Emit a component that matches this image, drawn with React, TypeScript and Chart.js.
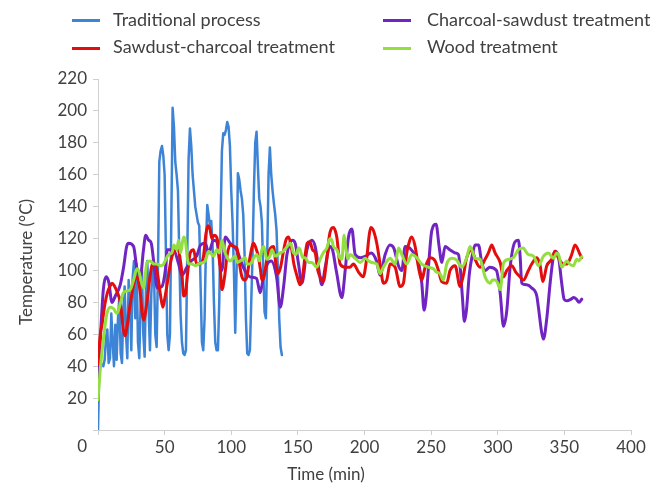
import React, { useEffect, useRef } from "react";
import { Chart, registerables } from "chart.js";

Chart.register(...registerables);

// ---- data ----
const seriesNames = [
  "Traditional process",
  "Charcoal-sawdust treatment",
  "Sawdust-charcoal treatment",
  "Wood treatment",
];

// Traditional process: one reading per minute, starting at 0 min
const tradTemp = [
  0, 40, 42, 41, 40, 44, 58, 63, 42, 45,
  73, 55, 40, 66, 44, 70, 83, 48, 42, 75,
  90, 60, 45, 94, 80, 50, 95, 106, 70, 104,
  55, 45, 80, 100, 60, 46, 90, 106, 75, 50,
  85, 103, 100, 60, 52, 100, 168, 175, 178, 172,
  160, 110, 60, 50, 60, 130, 202, 190, 168, 160,
  150, 110, 72, 55, 48, 47, 50, 110, 170, 189,
  178, 160, 150, 140, 135, 130, 128, 90, 55, 50,
  70, 115, 141, 135, 128, 131, 115, 80, 55, 50,
  50, 80, 130, 175, 186, 185, 188, 193, 190, 178,
  150, 130, 100, 61, 100, 161, 157, 150, 145, 135,
  110, 70, 48, 47, 50, 80, 110, 150, 180, 187,
  165, 145, 140, 130, 100, 74, 70, 110, 160, 177,
  160, 150, 142, 135, 125, 100, 70, 52, 47,
];

const charcoalSawdustTime = [
  0, 1.7, 4, 6, 8, 10.5, 13, 16.7, 19.2, 21.5, 23, 26.7, 29.2, 31.7, 34, 35.8, 38, 40, 42, 44.5,
  48, 50.5, 52, 56.7, 60.5, 63, 66.7, 70, 74, 77, 80.5, 83, 86.7, 89.2, 91.5, 93, 95.5, 99.2, 104, 109,
  114, 119, 121.7, 124.2, 127, 130, 134, 136.8, 139.3, 141.8, 144, 146, 148, 150.5, 153, 156.8, 160.5, 163, 165.5, 168,
  170.5, 174, 176, 179, 183, 185.5, 188, 190.5, 193, 197, 201, 205, 209, 211.7, 215.5, 219, 222, 225.5, 228, 230.5,
  234, 239, 241, 243, 244.7, 246.5, 248, 250.5, 253.7, 256, 258, 260.5, 264, 268, 270.5, 272, 273.5, 275, 276.5, 278.7,
  281, 283, 285.5, 288, 290.5, 294, 299, 301.8, 304.3, 306.8, 309.3, 313, 315.5, 316.8, 318, 321.8, 325.5, 329.3, 330.5, 333,
  334.3, 336.8, 339.3, 341.8, 343, 345.5, 348, 349.8, 352, 355, 357, 359, 361, 363,
];
const charcoalSawdustTemp = [
  27, 56, 88, 96, 93, 80, 84, 91, 102, 115, 117, 115, 101, 95, 112, 122, 119, 117, 104, 89,
  90, 100, 113, 113, 104, 97, 102, 106, 109, 116, 117, 111, 119, 118, 104, 100, 121, 117, 113, 102,
  96, 95, 86, 96, 104, 106, 96, 77, 90, 110, 117, 119, 117, 104, 92, 113, 119, 115, 102, 91,
  102, 115, 113, 99, 83, 100, 121, 126, 110, 108, 109, 111, 106, 97, 110, 116, 114, 103, 100, 115,
  114, 108, 103, 92, 75, 85, 102, 125, 129, 115, 105, 115, 113, 111, 110, 100, 83, 68, 75, 98,
  110, 116, 116, 105, 100, 102, 100, 86, 65, 75, 102, 118, 119, 109, 92, 91, 89, 84, 77, 61,
  57, 70, 92, 109, 112, 109, 92, 82, 81, 82, 83, 82, 80, 82,
];

const sawdustCharcoalTime = [
  0, 1.7, 3, 5, 7, 9, 10.5, 12.5, 14.2, 16.7, 19.2, 20.5, 22, 24, 26.7, 29.2, 31.7, 33, 34.2, 36.7,
  39, 41, 43, 45, 47, 48.7, 50, 52, 54.7, 57, 60, 61.5, 63, 64.2, 65.5, 67, 69.2, 71.7, 74, 76,
  79, 81, 82.5, 84, 85.5, 87, 89, 90.5, 92, 93, 95, 97, 99.2, 102, 104.2, 106, 108, 110, 111.7, 114,
  116.7, 118.5, 120.5, 122, 123, 124.5, 127, 129.5, 131.7, 133.5, 135, 137, 139.2, 141, 143, 145, 147, 149.2, 151.7, 153.5,
  155.5, 157, 159, 161, 163, 165, 166.7, 169, 171.7, 173.5, 175, 176.7, 178, 179.2, 181.7, 185.5, 189, 191.7, 195.5, 199,
  201.7, 203.5, 204.7, 206.7, 209.2, 211.7, 214.2, 216.7, 219.2, 223, 226.7, 229.2, 231.7, 234, 235.5, 238, 240.5, 243, 245.5, 249.2,
  253, 255.5, 258, 261.7, 264.2, 268, 271.7, 274.2, 276.7, 280.5, 283, 286.7, 290.5, 293, 295.5, 298, 301.8, 304.3, 306.8, 310.5,
  313.5, 316.8, 319.3, 323, 325.5, 329.3, 331.8, 333.8, 336.8, 340.5, 343, 345.5, 349.3, 351.8, 355.5, 358, 361.8, 363,
];
const sawdustCharcoalTemp = [
  41, 60, 66, 78, 86, 90, 92, 90, 87, 80, 62, 59, 66, 78, 91, 96, 86, 74, 69, 80,
  96, 104, 104, 96, 84, 77, 82, 92, 106, 112, 114, 108, 98, 84, 85, 96, 111, 113, 104, 104,
  108, 123, 128, 126, 120, 122, 121, 114, 98, 88, 96, 110, 116, 115, 114, 105, 96, 94, 96, 108,
  117, 114, 108, 100, 94, 96, 108, 114, 115, 104, 98, 102, 112, 119, 121, 115, 104, 97, 91, 96,
  110, 117, 118, 113, 111, 100, 96, 93, 107, 121, 126, 127, 125, 121, 104, 102, 102, 104, 99, 96,
  108, 122, 127, 125, 117, 104, 92, 94, 104, 102, 90, 92, 111, 119, 121, 115, 102, 94, 102, 108,
  106, 100, 93, 92, 100, 103, 90, 97, 108, 113, 107, 102, 107, 111, 116, 111, 105, 96, 100, 103,
  99, 96, 94, 100, 104, 108, 103, 93, 103, 107, 112, 108, 104, 104, 110, 116, 110, 108,
];

const woodTime = [
  0, 1.7, 4.2, 6.7, 9.2, 11.7, 14.2, 16.7, 19, 21, 24.2, 26.7, 29.2, 30.5, 31.7, 34.2, 36.7, 39.2, 42, 44.2,
  47, 49.2, 51, 53, 55.5, 57, 59, 60.5, 62, 64.2, 65.5, 67, 68, 70.5, 73, 76.7, 80.5, 83, 86.7, 89.2,
  91, 93, 95, 97, 99.2, 103, 104.5, 106.7, 110.5, 112, 114.2, 117, 119.2, 121, 123, 124.5, 126.7, 129, 130.5, 133,
  136.7, 139, 141, 143, 144.5, 146.7, 148.5, 150.5, 151.7, 153.5, 155.5, 158, 160.5, 164.2, 166.7, 169, 171.7, 174.2, 175.5, 176.7,
  179.2, 181.5, 183, 184.7, 186, 187.5, 189.2, 193, 196.7, 200.5, 203, 205.5, 209.2, 211.7, 213.5, 215.5, 219.2, 223, 225.5, 228,
  231.7, 235.5, 239.2, 243, 248, 251.7, 254, 256.7, 259.2, 261.7, 265.5, 269.2, 273, 276.7, 279.2, 281, 283, 286.8, 290.5, 294.3,
  296, 298, 300, 301.8, 304.3, 308, 311.8, 315.5, 319.3, 321, 323, 326.8, 330.5, 334.3, 338, 341.8, 344.3, 346, 348, 351.8,
  354, 356.8, 359.3, 361, 363,
];
const woodTemp = [
  19, 38, 58, 73, 77, 76, 73, 79, 86, 87, 88, 94, 101, 100, 96, 89, 105, 106, 104, 104,
  103, 104, 107, 110, 111, 116, 113, 119, 111, 121, 119, 108, 104, 104, 103, 104.5, 106, 112, 109, 113,
  111, 119, 112, 108, 106, 109, 105, 106, 108, 104, 104, 108, 110, 106, 113, 115, 107, 109, 113, 109,
  111, 112, 114, 116, 117, 111, 110, 114, 113, 108, 108, 105, 105, 102, 107, 111, 114, 120, 119, 115,
  113, 108, 107, 122, 114, 107, 110, 107.6, 105, 107.6, 106, 105, 104, 98, 101, 104, 107.6, 104, 114, 110,
  104, 110, 108, 104, 102, 101, 99, 98, 94, 104, 107.6, 106.5, 102, 108, 115, 112, 107.6, 107, 96, 92,
  94, 94, 92, 88, 104.5, 107, 108, 113, 114, 112, 110, 109, 103, 109, 111, 107.6, 111, 109, 102, 106,
  104, 103, 107, 106, 108.6,
];

const seriesColors = ["#3d84d6", "#7024c2", "#e30d0d", "#93df3f"];
const xTickStep = 50;
const yTickStep = 20;

const FONT = "Lato, 'Open Sans', sans-serif";
const TEXT = "#404040";

function toXY(times: number[], temps: number[]) {
  return times.map((t, i) => ({ x: t, y: temps[i] }));
}

export default function App() {
  const canvasRef = useRef<HTMLCanvasElement | null>(null);

  useEffect(() => {
    const canvas = canvasRef.current;
    if (!canvas) return;
    const tradTime = tradTemp.map((_, i) => i);
    const chart = new Chart(canvas, {
      type: "line",
      data: {
        datasets: [
          {
            label: seriesNames[0],
            data: toXY(tradTime, tradTemp),
            borderColor: seriesColors[0],
            backgroundColor: seriesColors[0],
            borderWidth: 2.5,
            tension: 0,
            order: 4,
          },
          {
            label: seriesNames[1],
            data: toXY(charcoalSawdustTime, charcoalSawdustTemp),
            borderColor: seriesColors[1],
            backgroundColor: seriesColors[1],
            borderWidth: 3,
            cubicInterpolationMode: "monotone",
            order: 3,
          },
          {
            label: seriesNames[2],
            data: toXY(sawdustCharcoalTime, sawdustCharcoalTemp),
            borderColor: seriesColors[2],
            backgroundColor: seriesColors[2],
            borderWidth: 3,
            cubicInterpolationMode: "monotone",
            order: 2,
          },
          {
            label: seriesNames[3],
            data: toXY(woodTime, woodTemp),
            borderColor: seriesColors[3],
            backgroundColor: seriesColors[3],
            borderWidth: 3,
            cubicInterpolationMode: "monotone",
            order: 1,
          },
        ],
      },
      options: {
        animation: false,
        responsive: false,
        maintainAspectRatio: false,
        layout: { padding: { left: 0, right: 26, top: 79, bottom: 0 } },
        elements: { point: { radius: 0, hoverRadius: 0 }, line: { borderJoinStyle: "round", borderCapStyle: "round" } },
        plugins: { legend: { display: false }, tooltip: { enabled: false } },
        scales: {
          x: {
            type: "linear",
            min: 0,
            max: 400,
            ticks: {
              stepSize: xTickStep,
              autoSkip: false,
              maxRotation: 0,
              padding: 2,
              color: TEXT,
              font: { family: FONT, size: 17 },
              callback: (v: any) => (v === 0 ? "" : String(v)),
            },
            grid: { display: true, drawOnChartArea: false, drawTicks: true, tickLength: 5, color: "#d0d0d0" },
            border: { display: true, color: "#d0d0d0", width: 1 },
            afterFit: (s: any) => {
              s.height = 54;
            },
          },
          y: {
            type: "linear",
            min: 0,
            max: 220,
            ticks: {
              stepSize: yTickStep,
              autoSkip: false,
              padding: 6,
              color: TEXT,
              font: { family: FONT, size: 17, lineHeight: 1 },
              callback: (v: any) => (v === 0 ? ["", "", "0"] : String(v)),
            },
            grid: { display: true, drawOnChartArea: false, drawTicks: true, tickLength: 5, color: "#d0d0d0" },
            border: { display: true, color: "#d0d0d0", width: 1 },
            afterFit: (s: any) => {
              s.width = 98;
            },
          },
        },
      },
    } as any);
    return () => chart.destroy();
  }, []);

  const legendItems = [
    { name: seriesNames[0], color: seriesColors[0], lineLeft: 72, textLeft: 113, row: 0 },
    { name: seriesNames[1], color: seriesColors[1], lineLeft: 383, textLeft: 427, row: 0 },
    { name: seriesNames[2], color: seriesColors[2], lineLeft: 72, textLeft: 113, row: 1 },
    { name: seriesNames[3], color: seriesColors[3], lineLeft: 383, textLeft: 427, row: 1 },
  ];
  const rowCenters = [20.5, 48];

  return (
    <div
      style={{
        position: "fixed",
        left: 0,
        top: 0,
        width: 657,
        height: 484,
        background: "#ffffff",
        fontFamily: FONT,
        color: TEXT,
        overflow: "hidden",
      }}
    >
      <canvas
        ref={canvasRef}
        width={657}
        height={484}
        style={{ position: "absolute", left: 0, top: 0, width: 657, height: 484 }}
      />
      {legendItems.map((it) => (
        <React.Fragment key={it.name}>
          <div
            style={{
              position: "absolute",
              left: it.lineLeft,
              top: rowCenters[it.row] - 1.5,
              width: 28,
              height: 3,
              background: it.color,
            }}
          />
          <div
            style={{
              position: "absolute",
              left: it.textLeft,
              top: rowCenters[it.row] - 12,
              fontSize: 18,
              lineHeight: "21.6px",
              whiteSpace: "nowrap",
            }}
          >
            {it.name}
          </div>
        </React.Fragment>
      ))}
      <div
        style={{
          position: "absolute",
          left: 326,
          top: 474,
          transform: "translate(-50%, -50%)",
          fontSize: 17,
          lineHeight: "20px",
          whiteSpace: "nowrap",
        }}
      >
        Time (min)
      </div>
      <div
        style={{
          position: "absolute",
          left: 25.5,
          top: 261.5,
          transform: "translate(-50%, -50%) rotate(-90deg)",
          fontSize: 17,
          lineHeight: "20px",
          whiteSpace: "nowrap",
        }}
      >
        Temperature (°C)
      </div>
    </div>
  );
}
